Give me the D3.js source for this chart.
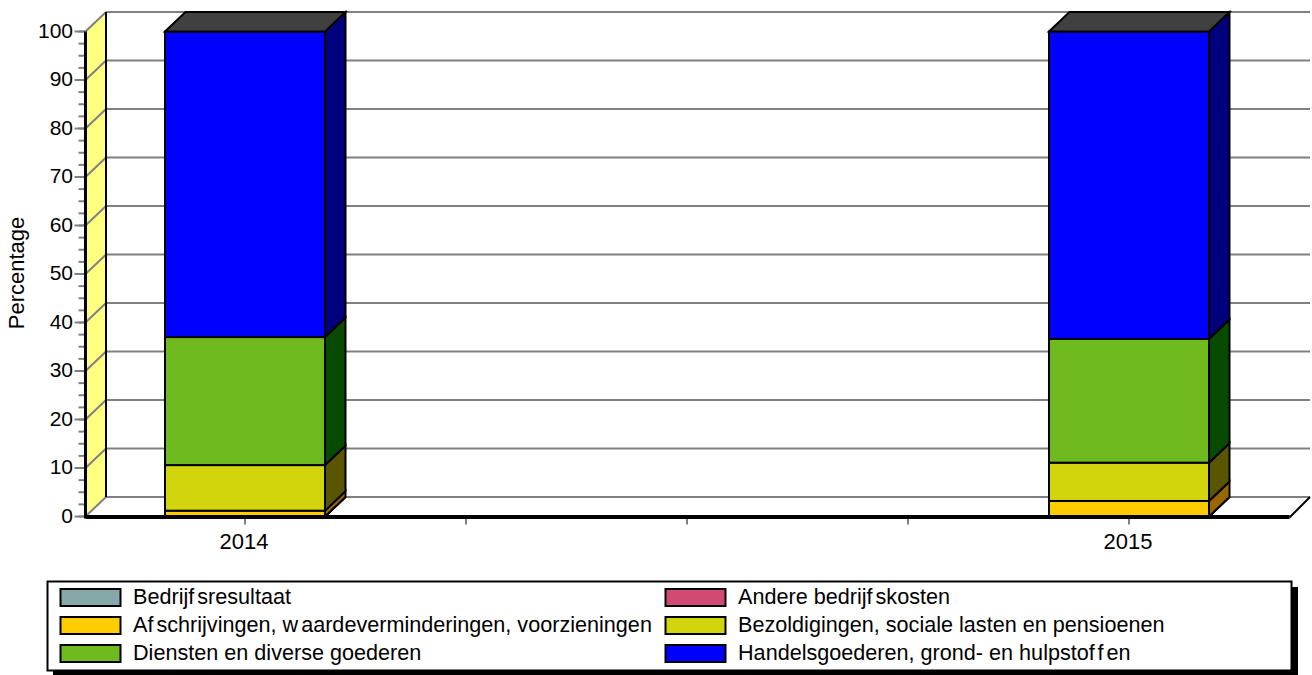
<!DOCTYPE html>
<html>
<head>
<meta charset="utf-8">
<script src="https://cdn.jsdelivr.net/npm/d3@7"></script>
<style>
  body { margin: 0; background: #fff; }
  text { font-family: "Liberation Sans", Arial, sans-serif; fill: #000; }
</style>
</head>
<body>
<div id="chart"></div>
<script>
// data
var years = ["2014", "", " ", "  ", "2015"];
var barYears = ["2014", "2015"];
var seriesNames = ["Bedrijfsresultaat", "Andere bedrijfskosten", "Afschrijvingen, waardeverminderingen, voorzieningen",
  "Bezoldigingen, sociale lasten en pensioenen", "Diensten en diverse goederen", "Handelsgoederen, grond- en hulpstoffen"];
var stackOrder = [0, 1, 2, 3, 4, 5];
var values2014 = [0, 0, 1.2, 9.4, 26.4, 63];
var values2015 = [0, 0, 3.2, 7.9, 25.5, 63.4];
var seriesColors = ["#84a9a8", "#d14a73", "#ffcc00", "#d2d40c", "#6fba1e", "#0000ff"];
var sideColors = ["#425454", "#682539", "#996600", "#5a5500", "#084a00", "#00007f"];
var yTicks = d3.range(0, 101, 10);
var yMinorTicks = d3.range(0, 100.1, 2.5);

var width = 1312, height = 675;
var depthX = 20.5, depthY = 19.5;

var svg = d3.select("#chart").append("svg")
  .attr("width", width)
  .attr("height", height)
  .style("display", "block");

var y = d3.scaleLinear().domain([0, 100]).range([516.5, 31.5]);
var x = d3.scalePoint().domain(years).range([245, 1129]);
var plotLeft = 85.5, plotRight = 1289.5;
var barWidth = 160;

/* back wall gridlines and the yellow side wall */
svg.append("polygon")
  .attr("points", [[plotLeft, y(0)], [plotLeft + depthX, y(0) - depthY], [plotLeft + depthX, y(100) - depthY], [plotLeft, y(100)]].join(" "))
  .attr("fill", "#ffff80");

svg.selectAll(".grid").data(yTicks).enter().append("line")
  .attr("x1", plotLeft + depthX).attr("x2", plotRight + depthX)
  .attr("y1", function(d) { return y(d) - depthY; })
  .attr("y2", function(d) { return y(d) - depthY; })
  .attr("stroke", "#808080").attr("stroke-width", 2);

svg.selectAll(".diag").data(yTicks).enter().append("line")
  .attr("x1", plotLeft).attr("x2", plotLeft + depthX)
  .attr("y1", function(d) { return y(d); })
  .attr("y2", function(d) { return y(d) - depthY; })
  .attr("stroke", "#808080").attr("stroke-width", 2);

svg.append("line")
  .attr("x1", plotLeft + depthX).attr("x2", plotLeft + depthX)
  .attr("y1", y(0) - depthY).attr("y2", y(100) - depthY)
  .attr("stroke", "#000").attr("stroke-width", 2);

/* left axis */
svg.selectAll(".minor").data(yMinorTicks).enter().append("line")
  .attr("x1", plotLeft - 7).attr("x2", plotLeft)
  .attr("y1", function(d) { return y(d); })
  .attr("y2", function(d) { return y(d); })
  .attr("stroke", "#808080").attr("stroke-width", 2);

svg.selectAll(".major").data(yTicks).enter().append("line")
  .attr("x1", plotLeft - 11).attr("x2", plotLeft)
  .attr("y1", function(d) { return y(d); })
  .attr("y2", function(d) { return y(d); })
  .attr("stroke", "#808080").attr("stroke-width", 2);

svg.append("line")
  .attr("x1", plotLeft).attr("x2", plotLeft)
  .attr("y1", y(0) + 2).attr("y2", y(100))
  .attr("stroke", "#000").attr("stroke-width", 3);

svg.selectAll(".ylabel").data(yTicks).enter().append("text")
  .attr("x", 73)
  .attr("y", function(d) { return y(d) - 1; })
  .attr("dy", "0.35em")
  .attr("text-anchor", "end")
  .attr("font-size", 21)
  .text(function(d) { return d; });

svg.append("text")
  .attr("transform", "translate(24,273) rotate(-90)")
  .attr("text-anchor", "middle")
  .attr("font-size", 22)
  .text("Percentage");

/* floor edge */
svg.append("line")
  .attr("x1", plotRight).attr("x2", plotRight + depthX)
  .attr("y1", y(0) + 1).attr("y2", y(0) - depthY)
  .attr("stroke", "#000").attr("stroke-width", 2);

/* bars */
var stack = d3.stack().keys(stackOrder).value(function(d, k) { return d[k]; });
var stacked = stack([values2014, values2015]);

function boxFace(pts) { return pts.join(" "); }

barYears.forEach(function(year, j) {
  var left = x(year) - barWidth / 2;
  var right = left + barWidth;
  var g = svg.append("g").attr("class", "bar");

  stacked.forEach(function(layer, i) {
    var y0 = y(layer[j][0]), y1 = y(layer[j][1]);
    g.append("polygon")
      .attr("points", boxFace([[right, y0], [right + depthX, y0 - depthY], [right + depthX, y1 - depthY], [right, y1]]))
      .attr("fill", sideColors[i]).attr("stroke", "#000").attr("stroke-width", 2);
    g.append("rect")
      .attr("x", left).attr("y", y1)
      .attr("width", barWidth).attr("height", y0 - y1)
      .attr("fill", seriesColors[i]).attr("stroke", "#000").attr("stroke-width", 2);
  });

  g.append("polygon")
    .attr("points", boxFace([[left, y(100)], [left + depthX, y(100) - depthY], [right + depthX, y(100) - depthY], [right, y(100)]]))
    .attr("fill", "#404040").attr("stroke", "#000").attr("stroke-width", 2);
});

/* bottom axis */
svg.append("line")
  .attr("x1", plotLeft).attr("x2", plotRight)
  .attr("y1", y(0) + 0.5).attr("y2", y(0) + 0.5)
  .attr("stroke", "#000").attr("stroke-width", 4);

svg.selectAll(".xtick").data(years).enter().append("line")
  .attr("x1", function(d) { return x(d); })
  .attr("x2", function(d) { return x(d); })
  .attr("y1", y(0) + 2.5).attr("y2", y(0) + 8)
  .attr("stroke", "#808080").attr("stroke-width", 2);

svg.selectAll(".xlabel").data(barYears).enter().append("text")
  .attr("x", function(d) { return x(d) - 1; })
  .attr("y", 548.5)
  .attr("text-anchor", "middle")
  .attr("font-size", 22)
  .text(function(d) { return d; });

/* legend */
var legendRows = d3.scaleBand().domain([0, 1, 2]).range([583, 667]);
var legendCols = d3.scalePoint().domain([0, 1]).range([60, 665]);

svg.append("rect").attr("x", 53).attr("y", 587).attr("width", 1245).attr("height", 90).attr("fill", "#000");
svg.append("rect").attr("x", 47.5).attr("y", 581.5).attr("width", 1244).attr("height", 89)
  .attr("fill", "#fff").attr("stroke", "#000").attr("stroke-width", 2);

var items = svg.selectAll(".legend-item").data(seriesNames).enter().append("g")
  .attr("class", "legend-item")
  .attr("transform", function(d, i) {
    return "translate(" + legendCols(i % 2) + "," + legendRows(Math.floor(i / 2)) + ")";
  });

items.append("rect")
  .attr("x", 0.5).attr("y", 6)
  .attr("width", 60).attr("height", 17)
  .attr("fill", function(d, i) { return seriesColors[i]; })
  .attr("stroke", "#000").attr("stroke-width", 2);

// the original has loose gaps after f and w
function looseGaps(name) {
  return name.split("").map(function(c, i) {
    return i > 0 && "fw".indexOf(name[i - 1]) >= 0 ? 3 : 0;
  }).join(" ");
}

items.append("text")
  .attr("x", 73).attr("y", 13.5)
  .attr("dy", "0.35em")
  .attr("dx", looseGaps)
  .attr("font-size", 21.6)
  .text(function(d) { return d; });
</script>
</body>
</html>
